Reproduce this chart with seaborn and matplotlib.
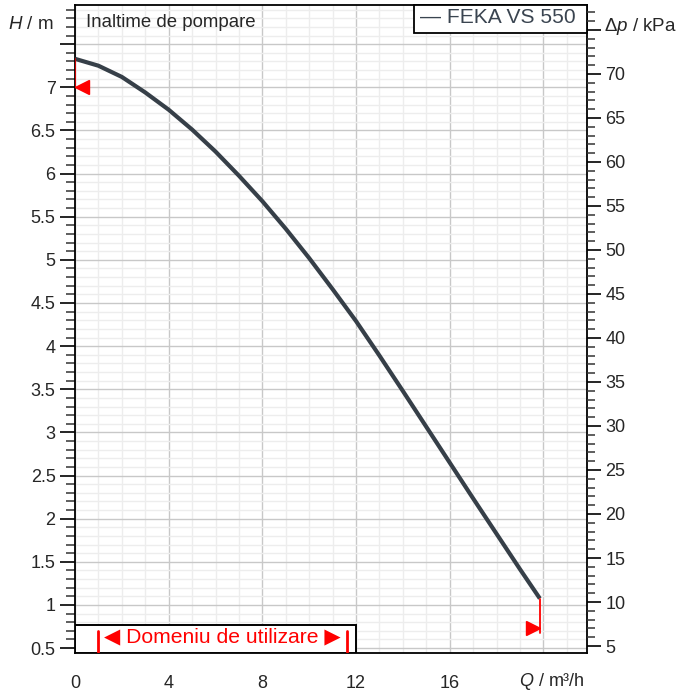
import matplotlib
matplotlib.use("Agg")
import matplotlib.pyplot as plt
import seaborn as sns
from matplotlib.patches import Rectangle
from matplotlib.ticker import MultipleLocator

# pump curve
q_flow = [0, 1, 2, 3, 4, 5, 6, 7, 8, 9, 10, 11, 12, 13, 14, 15, 16, 17, 18,
          19, 19.85]
h_head = [7.33, 7.25, 7.12, 6.94, 6.74, 6.51, 6.255, 5.975, 5.68, 5.36, 5.02,
          4.66, 4.29, 3.89, 3.48, 3.065, 2.65, 2.235, 1.825, 1.415, 1.075]

series_name = "FEKA VS 550"
x_ticks = [0, 4, 8, 12, 16, 20]
h_ticks = [0.5, 1, 1.5, 2, 2.5, 3, 3.5, 4, 4.5, 5, 5.5, 6, 6.5, 7, 7.5]
dp_ticks = [5, 10, 15, 20, 25, 30, 35, 40, 45, 50, 55, 60, 65, 70, 75]

# operating range and limit markers
range_q = [1.0, 11.6]
h_min_mark = 7.0
end_mark_h = 0.737
end_line_h = 0.675

xlim = (0, 21.85)
hlim = (0.447, 7.954)
dplim = (4.24, 77.84)

sns.set_style("white")
plt.rcParams["font.family"] = ["Liberation Sans", "DejaVu Sans"]
plt.rcParams["mathtext.fontset"] = "custom"
plt.rcParams["mathtext.rm"] = "Liberation Sans"
plt.rcParams["mathtext.it"] = "Liberation Sans:italic"

fig = plt.figure(figsize=(6.85, 6.92), dpi=100)
ax = fig.add_axes([0.1095, 0.0568, 0.747, 0.936])

curve_col = "#363f48"
sns.lineplot(x=q_flow, y=h_head, ax=ax, color=curve_col, linewidth=3.0,
             zorder=5, solid_capstyle="butt")

ax.set_xlim(*xlim)
ax.set_ylim(*hlim)

ax.xaxis.set_minor_locator(MultipleLocator(1))
ax.yaxis.set_minor_locator(MultipleLocator(0.1))
ax.set_xticks(x_ticks)
ax.set_xticklabels([f"{v:g}" for v in x_ticks[:-1]] + [""])
ax.set_yticks(h_ticks)
ax.set_yticklabels([f"{v:g}" for v in h_ticks[:-1]] + [""])

ax.grid(which="major", color="#c8c8c8", linewidth=1.0, zorder=0)
ax.grid(which="minor", color="#ededed", linewidth=1.0, zorder=0)
ax.set_axisbelow(True)

for s in ax.spines.values():
    s.set_color("black")
    s.set_linewidth(1.3)

ax.tick_params(axis="y", which="major", length=11, width=1.2, pad=3,
               labelsize=13, color="black")
ax.tick_params(axis="y", which="minor", length=6.5, width=1.1, color="#333333")
ax.tick_params(axis="x", which="major", length=9, width=1.2, pad=7,
               labelsize=13, color="black")
ax.tick_params(axis="x", which="minor", length=5, width=1.1, color="#333333")
ax.set_xlabel("")
ax.set_ylabel("")

# right axis in kPa
ax2 = ax.twinx()
ax2.set_ylim(*dplim)
ax2.set_yticks(dp_ticks)
ax2.set_yticklabels([f"{v:g}" for v in dp_ticks[:-1]] + [""])
ax2.yaxis.set_minor_locator(MultipleLocator(1))
ax2.tick_params(axis="y", which="major", length=10, width=1.2, pad=3.5,
                labelsize=13, color="black")
ax2.tick_params(axis="y", which="minor", length=6, width=1.1, color="#333333")
ax2.grid(False)
for s in ax2.spines.values():
    s.set_visible(False)

# axis titles placed where tick labels would be
ax.text(-0.042, 7.73, "$H$ / m", ha="right", va="center", fontsize=13.5,
        transform=ax.get_yaxis_transform())
ax.text(1.034, 7.70, "Δ$p$ / kPa", ha="left", va="center", fontsize=13.5,
        transform=ax.get_yaxis_transform())
ax.text(20.35, -0.045, "$Q$ / m³/h", ha="center", va="center", fontsize=13,
        transform=ax.get_xaxis_transform())

ax.text(0.022, 0.986, "Inaltime de pompare", ha="left", va="top",
        fontsize=13.4, transform=ax.transAxes, zorder=6)

# legend box in the top right corner
ax.add_patch(Rectangle((0.6625, 0.9563), 0.3375, 0.0437, transform=ax.transAxes,
                       facecolor="white", edgecolor="black", linewidth=1.3,
                       zorder=7, clip_on=False))
ax.text(0.675, 0.981, "— " + series_name, ha="left", va="center",
        fontsize=15.1, color="#3a4450", transform=ax.transAxes, zorder=8)

# limit markers
ax.plot([q_flow[0], q_flow[0]], [h_head[0], h_min_mark], color="#cc0000",
        linewidth=1.5, zorder=6)
ax.plot([0.3], [h_min_mark], marker="<", color="red", markersize=10,
        linestyle="none", zorder=7, clip_on=False)
ax.plot([q_flow[-1], q_flow[-1]], [h_head[-1], end_line_h], color="red",
        linewidth=1.3, zorder=6)
ax.plot([q_flow[-1] - 0.3], [end_mark_h], marker=">", color="red",
        markersize=10, linestyle="none", zorder=7)

# operating range box
ax.add_patch(Rectangle((0, hlim[0]), 12, 0.77 - hlim[0], facecolor="white",
                       edgecolor="black", linewidth=1.4, zorder=8))
for q in range_q:
    ax.plot([q, q], [0.46, 0.70], color="red", linewidth=2, zorder=9)
ax.text(sum(range_q) / 2, 0.628, "◀ Domeniu de utilizare ▶", color="red",
        ha="center", va="center", fontsize=15.2, zorder=9)

fig.savefig("out.png", dpi=100)
